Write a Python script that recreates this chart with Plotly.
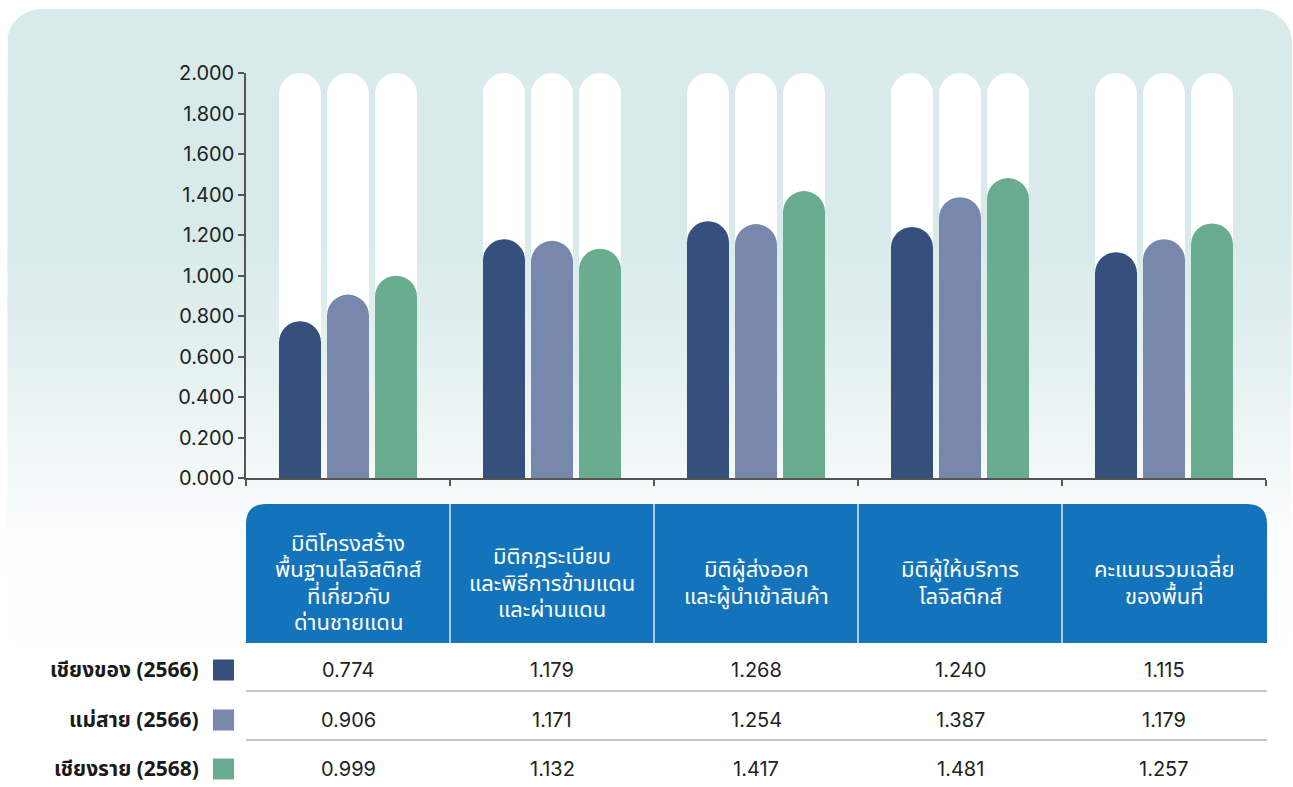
import numpy as np
import plotly.graph_objects as go

# ---------------- data ----------------
categories = [
    "มิติโครงสร้างพื้นฐานโลจิสติกส์ที่เกี่ยวกับด่านชายแดน",
    "มิติกฎระเบียบและพิธีการข้ามแดนและผ่านแดน",
    "มิติผู้ส่งออกและผู้นำเข้าสินค้า",
    "มิติผู้ให้บริการโลจิสติกส์",
    "คะแนนรวมเฉลี่ยของพื้นที่",
]
header_lines = [
    ["มิติโครงสร้าง", "พื้นฐานโลจิสติกส์", "ที่เกี่ยวกับ", "ด่านชายแดน"],
    ["มิติกฎระเบียบ", "และพิธีการข้ามแดน", "และผ่านแดน"],
    ["มิติผู้ส่งออก", "และผู้นำเข้าสินค้า"],
    ["มิติผู้ให้บริการ", "โลจิสติกส์"],
    ["คะแนนรวมเฉลี่ย", "ของพื้นที่"],
]
series_names = ["เชียงของ (2566)", "แม่สาย (2566)", "เชียงราย (2568)"]
chiang_khong = [0.774, 1.179, 1.268, 1.240, 1.115]
mae_sai = [0.906, 1.171, 1.254, 1.387, 1.179]
chiang_rai = [0.999, 1.132, 1.417, 1.481, 1.257]
series_values = [chiang_khong, mae_sai, chiang_rai]
series_colors = ["#35507d", "#7888ac", "#6aac90"]
y_max = 2.0
y_ticks = [0.0, 0.2, 0.4, 0.6, 0.8, 1.0, 1.2, 1.4, 1.6, 1.8, 2.0]

# ---------------- layout constants (pixels) ----------------
W, H = 1293, 787
PL, PR = 246, 1266          # plot area left/right
PT, PB = 73, 478            # plot area top (value 2.0) / bottom (value 0)
CAT_W = (PR - PL) / len(categories)
HEAD_T, HEAD_B = 504, 643   # table header
HEAD_MID, LINE_GAP = 584, 26.5
ROW_Y = [670, 720, 769]
SEP_Y = [691, 740]
THAI = "Noto Sans Thai, Noto Sans, sans-serif"
NUM = "Inter, Noto Sans Thai, sans-serif"


def Y(py):
    return H - py


fig = go.Figure()

# ---------------- background panel with vertical gradient ----------------
def rounded_rect(x0, y0, x1, y1, r, n=16):
    pts = []
    corners = [
        (x1 - r, y0 + r, -90, 0),
        (x1 - r, y1 - r, 0, 90),
        (x0 + r, y1 - r, 90, 180),
        (x0 + r, y0 + r, 180, 270),
    ]
    for cx, cy, a0, a1 in corners:
        for a in np.linspace(np.radians(a0), np.radians(a1), n):
            pts.append((cx + r * np.cos(a), cy + r * np.sin(a)))
    pts.append(pts[0])
    return [p[0] for p in pts], [Y(p[1]) for p in pts]

px_, py_ = rounded_rect(7, 9, 1292, 662, 34)
fig.add_trace(go.Scatter(
    x=px_, y=py_, mode="lines", fill="toself",
    line=dict(width=0, color="rgba(0,0,0,0)"),
    fillgradient=dict(
        type="vertical",
        colorscale=[[0, "#ffffff"], [0.2, "#fbfdfd"], [0.45, "#e5f1f0"],
                    [0.64, "#d8ebea"], [1, "#d8ebea"]],
        start=Y(662), stop=Y(9),
    ),
    hoverinfo="skip", showlegend=False, xaxis="x", yaxis="y",
))

# ---------------- bars ----------------
# white rounded "tracks" on the base subplot
for i in range(3):
    fig.add_trace(go.Bar(
        x=categories, y=[y_max] * len(categories),
        marker=dict(color="#ffffff", cornerradius="50%", line=dict(width=0)),
        hoverinfo="skip", showlegend=False, xaxis="x2", yaxis="y2",
    ))
# data bars on an overlaid subplot with identical scales
for i, (name, vals, col) in enumerate(zip(series_names, series_values, series_colors)):
    fig.add_trace(go.Bar(
        x=categories, y=vals, name=name,
        marker=dict(color=col, cornerradius="50%", line=dict(width=0)),
        hoverinfo="skip", showlegend=False, xaxis="x3", yaxis="y3",
    ))

# ---------------- table ----------------
shapes = []
annotations = []
R = 20
hx0, hx1 = PL, PR + 1
path = (f"M {hx0},{Y(HEAD_B)} L {hx0},{Y(HEAD_T + R)} "
        f"Q {hx0},{Y(HEAD_T)} {hx0 + R},{Y(HEAD_T)} "
        f"L {hx1 - R},{Y(HEAD_T)} Q {hx1},{Y(HEAD_T)} {hx1},{Y(HEAD_T + R)} "
        f"L {hx1},{Y(HEAD_B)} Z")
shapes.append(dict(type="path", path=path, xref="x", yref="y",
                   fillcolor="#1374bc", line=dict(width=0), layer="above"))
for k in range(1, len(categories)):
    xx = PL + k * CAT_W
    shapes.append(dict(type="line", xref="x", yref="y", x0=xx, x1=xx,
                       y0=Y(HEAD_T), y1=Y(HEAD_B),
                       line=dict(color="#dbe9f4", width=1.5), layer="above"))
for sy in SEP_Y:
    shapes.append(dict(type="line", xref="x", yref="y", x0=PL, x1=PR + 1,
                       y0=Y(sy), y1=Y(sy),
                       line=dict(color="#b4b4b4", width=1.5), layer="above"))

for k, lines in enumerate(header_lines):
    n = len(lines)
    for j, ln in enumerate(lines):
        cy = HEAD_MID + (j - (n - 1) / 2) * LINE_GAP
        annotations.append(dict(
            x=categories[k], y=Y(cy), xref="x2", yref="y",
            text=ln, showarrow=False, align="center",
            font=dict(family=THAI, size=22, color="#ffffff"),
        ))

for r, (name, vals, col) in enumerate(zip(series_names, series_values, series_colors)):
    ry = ROW_Y[r]
    annotations.append(dict(
        x=201, y=Y(ry), xref="x", yref="y", xanchor="right", text=f"<b>{name}</b>",
        showarrow=False, font=dict(family=THAI, size=21, color="#1a1a1a"),
    ))
    shapes.append(dict(type="rect", xref="x", yref="y", x0=213, x1=234,
                       y0=Y(ry - 10.5), y1=Y(ry + 10.5), fillcolor=col,
                       line=dict(width=0), layer="above"))
    for k, v in enumerate(vals):
        annotations.append(dict(
            x=categories[k], y=Y(ry), xref="x2", yref="y", text=f"{v:.3f}",
            showarrow=False, font=dict(family=NUM, size=20, color="#222222"),
        ))

x_dom = [PL / W, PR / W]
y_dom = [Y(PB) / H, Y(PT) / H]
fig.update_layout(
    width=W, height=H,
    margin=dict(l=0, r=0, t=0, b=0, autoexpand=False),
    paper_bgcolor="#ffffff", plot_bgcolor="rgba(0,0,0,0)",
    barmode="group", bargap=0.294, bargroupgap=0.125,
    showlegend=False,
    xaxis=dict(domain=[0, 1], range=[0, W], visible=False, fixedrange=True,
               automargin=False),
    yaxis=dict(domain=[0, 1], range=[0, H], visible=False, fixedrange=True,
               automargin=False),
    xaxis2=dict(
        domain=x_dom, anchor="y2", type="category",
        range=[-0.5, len(categories) - 0.5],
        showticklabels=False, ticks="outside", tickson="boundaries",
        ticklen=6, tickwidth=1.5, tickcolor="#555555",
        showline=True, linecolor="#555555", linewidth=1.5, showgrid=False,
        zeroline=False, fixedrange=True, automargin=False,
    ),
    yaxis2=dict(
        domain=y_dom, anchor="x2", range=[0, y_max],
        tickvals=y_ticks, tickformat=".3f", ticks="outside", ticklen=6,
        tickwidth=1.5, tickcolor="#555555", showline=True, linecolor="#555555",
        linewidth=1.5, showgrid=False, zeroline=False, fixedrange=True,
        automargin=False,
        tickfont=dict(family=NUM, size=20, color="#222222"),
    ),
    xaxis3=dict(
        overlaying="x2", anchor="y3", type="category",
        range=[-0.5, len(categories) - 0.5], visible=False,
        fixedrange=True, automargin=False,
    ),
    yaxis3=dict(
        overlaying="y2", anchor="x3", range=[0, y_max], visible=False,
        fixedrange=True, automargin=False,
    ),
    shapes=shapes,
    annotations=annotations,
)

fig.write_html(
    "out.html",
    config={"displayModeBar": False},
    post_script="document.body.style.margin='0';document.body.style.overflow='hidden';",
)
